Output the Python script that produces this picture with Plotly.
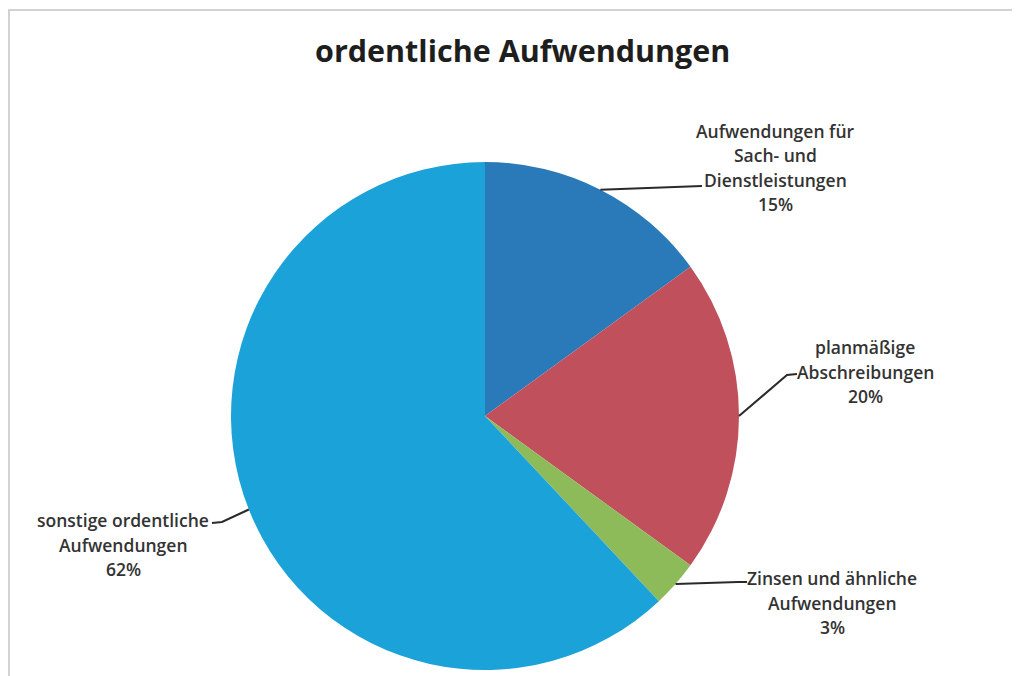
import math
import plotly.graph_objects as go

# ---- data ----
categories = [
    "Aufwendungen für\nSach- und\nDienstleistungen",
    "planmäßige\nAbschreibungen",
    "Zinsen und ähnliche\nAufwendungen",
    "sonstige ordentliche\nAufwendungen",
]
values = [15, 20, 3, 62]
colors = ["#2a7ab9", "#c0505c", "#8dbb5a", "#1ba2d8"]
title_text = "ordentliche Aufwendungen"

# ---- layout constants (pixels in the screenshot) ----
W, H = 1020, 676
OFF = 8  # page body margin
CX, CY, R = 485, 416, 254
# label block: (center x, first line y)
label_pos = [(775, 131), (865, 347), (832, 578), (123, 520)]
line_gap = 24.5
# leader paths (points after the slice edge point)
leader_tail = [
    [(702, 186)],
    [(787, 375), (797, 374)],
    [(738, 582), (747, 582)],
    [(222, 522), (212, 523)],
]

def px(x):
    return (x - OFF) / W

def py(y):
    return 1 - (y - OFF) / H

fig = go.Figure(go.Pie(
    labels=[c.replace("\n", " ") for c in categories],
    values=values,
    sort=False,
    direction="clockwise",
    rotation=0,
    marker=dict(colors=colors, line=dict(width=0)),
    textinfo="none",
    hoverinfo="label+percent",
    showlegend=False,
    domain=dict(x=[px(CX - R), px(CX + R)], y=[py(CY + R), py(CY - R)]),
))

annotations = []
shapes = []
total = sum(values)
cum = 0
font_lbl = dict(family="Open Sans", size=17.5, color="#333333", weight=600)
for i, (cat, v) in enumerate(zip(categories, values)):
    mid = (cum + v / 2) / total * 2 * math.pi
    cum += v
    sx = CX + R * math.sin(mid)
    sy = CY - R * math.cos(mid)
    pts = [(sx, sy)] + leader_tail[i]
    path = "M " + " L ".join(f"{px(x):.5f},{py(y):.5f}" for x, y in pts)
    shapes.append(dict(type="path", path=path, xref="paper", yref="paper",
                       line=dict(color="#2a2a2a", width=2)))
    lines = cat.split("\n") + [f"{round(v / total * 100)}%"]
    lx, ly = label_pos[i]
    for j, t in enumerate(lines):
        annotations.append(dict(text=t, x=px(lx), y=py(ly + j * line_gap),
                                xref="paper", yref="paper", showarrow=False,
                                xanchor="center", yanchor="middle", font=font_lbl))

# chart border (scan frame)
shapes.append(dict(type="path", path=f"M {px(9)},-0.05 L {px(9)},{py(10)} L 1.05,{py(10)}",
                   xref="paper", yref="paper", line=dict(color="#c4c4c4", width=1.5)))

annotations.append(dict(text=f"<b>{title_text}</b>", x=px(522), y=py(50), xref="paper", yref="paper",
                        showarrow=False, xanchor="center", yanchor="middle",
                        font=dict(family="Open Sans", size=30.5, color="#1e1e1e")))

fig.update_layout(
    width=W, height=H,
    margin=dict(l=0, r=0, t=0, b=0),
    paper_bgcolor="white", plot_bgcolor="white",
    annotations=annotations, shapes=shapes,
)

fig.write_html("out.html")
